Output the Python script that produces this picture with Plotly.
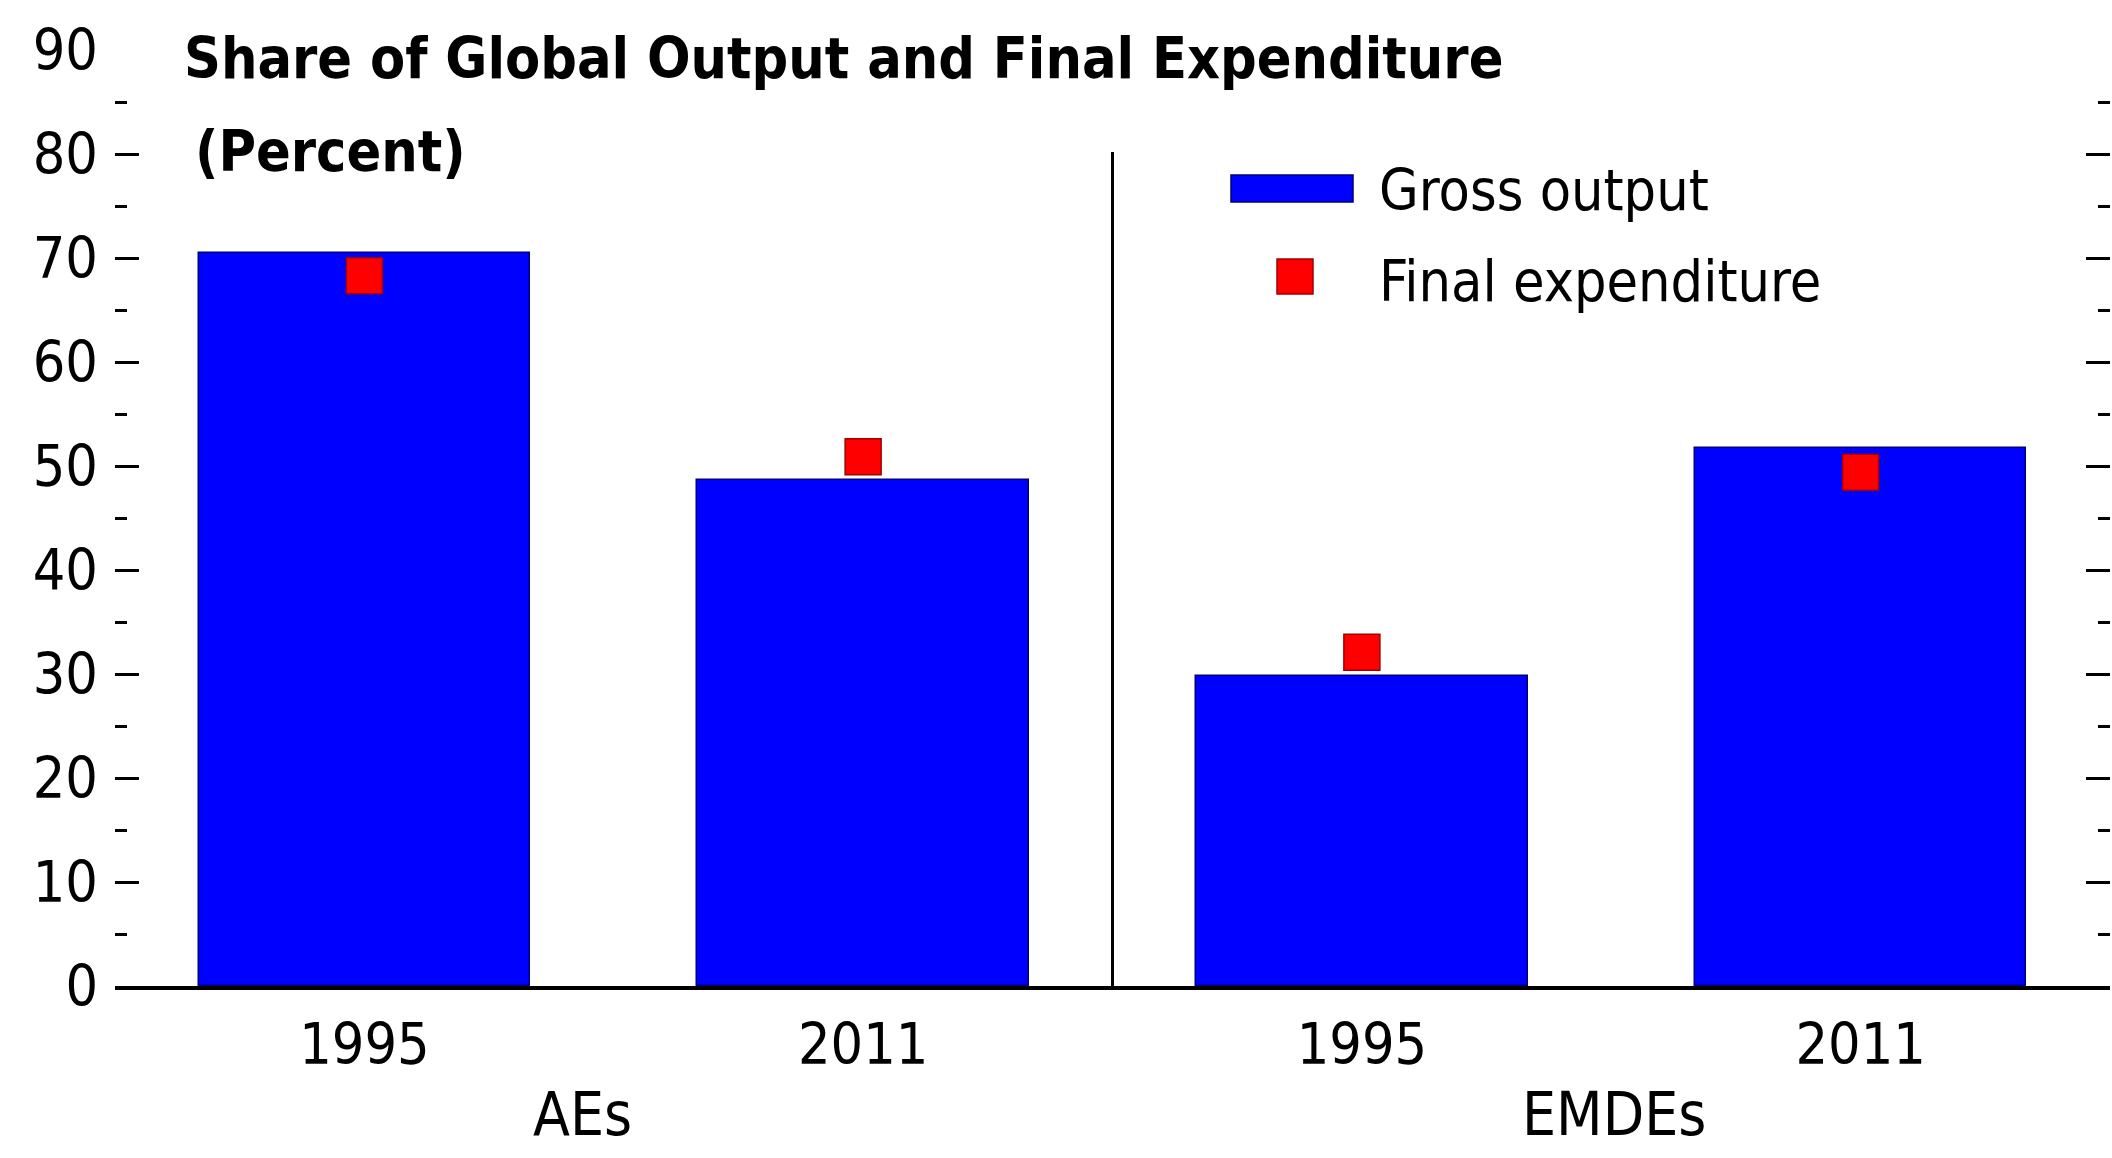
import plotly.graph_objects as go

# Data: share of global gross output and final expenditure (percent)
groups = ["AEs", "AEs", "EMDEs", "EMDEs"]
years = ["1995", "2011", "1995", "2011"]
gross_output = [70.5, 48.7, 29.8, 51.7]
final_expenditure = [68.3, 50.9, 32.1, 49.4]
group_names = ["AEs", "EMDEs"]

W, H = 2112, 1158
ML, MR, MT, MB = 115, 2, 50, 172
PW, PH = W - ML - MR, H - MT - MB

FONT = "Liberation Sans Narrow, Arial Narrow, DejaVu Sans Condensed, sans-serif"
BLUE = "#0000FF"
RED = "#FF0000"
TXT = 57


def px_x(px):
    return (px - ML) / PW


def px_y(py):
    return (H - MB - py) / PH


pos = list(range(len(years)))

fig = go.Figure()
fig.add_trace(go.Bar(
    x=pos, y=gross_output, name="Gross output",
    marker=dict(color=BLUE, line=dict(color="#00007a", width=1.5)),
    width=0.665, showlegend=False,
))
fig.add_trace(go.Scatter(
    x=pos, y=final_expenditure, name="Final expenditure", mode="markers",
    marker=dict(symbol="square", size=36, color=RED,
                line=dict(color="#a00000", width=1.5)),
    showlegend=False,
))

# Divider between the two country groups
fig.add_shape(type="line", xref="x", yref="y", x0=1.5, x1=1.5, y0=0, y1=80.2,
              line=dict(color="black", width=3))

# Hand-built legend
fig.add_shape(type="rect", xref="paper", yref="paper",
              x0=px_x(1231), x1=px_x(1353), y0=px_y(202), y1=px_y(175),
              fillcolor=BLUE, line=dict(color="#00007a", width=1.5))
fig.add_shape(type="rect", xref="paper", yref="paper",
              x0=px_x(1277), x1=px_x(1313), y0=px_y(294), y1=px_y(259),
              fillcolor=RED, line=dict(color="#a00000", width=1.5))

annotations = [
    dict(text="Gross output", x=px_x(1377), y=px_y(190), size=TXT),
    dict(text="Final expenditure", x=px_x(1377), y=px_y(281), size=TXT),
    dict(text="<b>Share of Global Output and Final Expenditure</b>", x=px_x(182), y=px_y(58), size=57),
    dict(text="<b>(Percent)</b>", x=px_x(193), y=px_y(151), size=57),
]
for a in annotations:
    size = a.pop("size")
    fig.add_annotation(xref="paper", yref="paper", xanchor="left", yanchor="middle",
                       showarrow=False, font=dict(family=FONT, size=size, color="black"), **a)

# Group labels under the year ticks
for name, xc in zip(group_names, [0.437, 2.506]):
    fig.add_annotation(xref="x", yref="paper", x=xc, y=px_y(1114), text=name,
                       xanchor="center", yanchor="middle", showarrow=False,
                       font=dict(family=FONT, size=60, color="black"))

fig.update_layout(
    width=W, height=H,
    margin=dict(l=ML, r=MR, t=MT, b=MB, pad=0),
    paper_bgcolor="white", plot_bgcolor="white",
    font=dict(family=FONT, size=TXT, color="black"),
    bargap=0,
)
fig.update_xaxes(
    range=[-0.5, 3.5], tickmode="array", tickvals=pos, ticktext=years,
    showgrid=False, zeroline=False, showline=True, linecolor="black", linewidth=4,
    ticks="", ticklabelstandoff=6,
    tickfont=dict(family=FONT, size=TXT, color="black"),
)
fig.update_yaxes(
    range=[0, 90], tickmode="linear", tick0=0, dtick=10,
    showgrid=False, zeroline=False, showline=False,
    ticks="inside", ticklen=24, tickwidth=3, tickcolor="black", mirror="ticks",
    ticklabelstandoff=16,
    minor=dict(dtick=5, ticks="inside", ticklen=12, tickwidth=3, tickcolor="black", showgrid=False),
    tickfont=dict(family=FONT, size=TXT, color="black"),
)

fig.write_html("out.html")
